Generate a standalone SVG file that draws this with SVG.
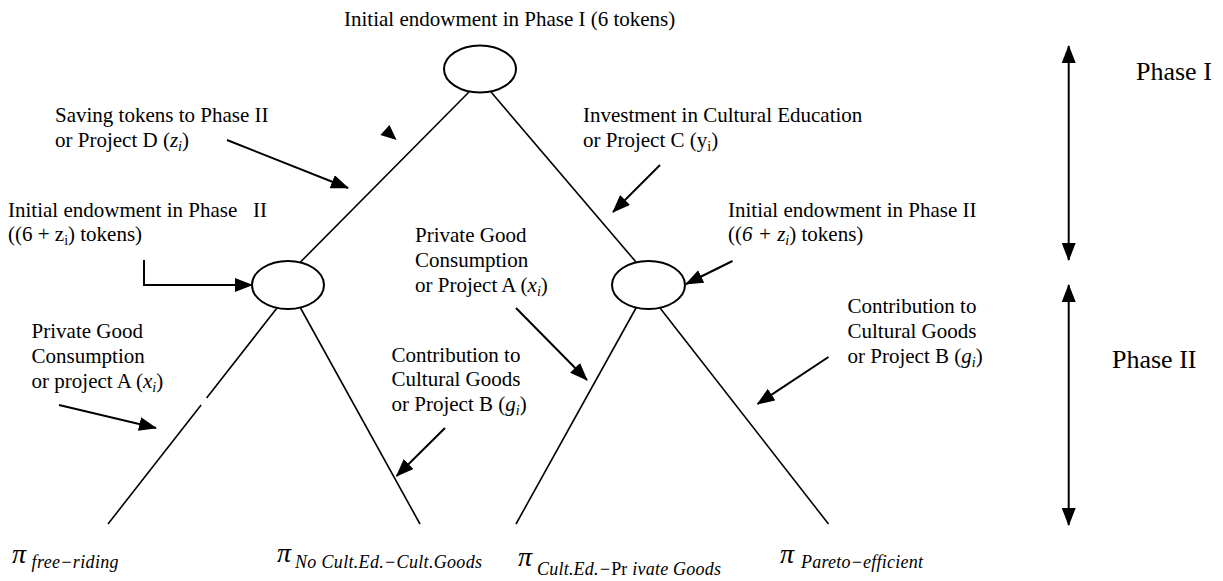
<svg xmlns="http://www.w3.org/2000/svg" width="1223" height="581" viewBox="0 0 1223 581">
  <defs>
    <marker id="head" markerUnits="userSpaceOnUse" viewBox="0 0 18 14" markerWidth="18" markerHeight="14" refX="17" refY="7" orient="auto-start-reverse">
      <path d="M0,0 L18,7 L0,14 z" fill="#000"/>
    </marker>
  </defs>
  <style>
    text { font-family: "Liberation Serif", "Times New Roman", serif; font-size: 21px; fill: #000; }
    .node { fill: #fff; stroke: #000; stroke-width: 2; }
    .branch { stroke: #000; stroke-width: 1.6; fill: none; }
    .arrow { stroke: #000; stroke-width: 2; fill: none; marker-end: url(#head); }
    .both { marker-start: url(#head); }
    .it { font-style: italic; }
    .phase { font-size: 26px; }
    .pi { font-size: 28px; font-style: italic; }
    .sub { font-size: 18px; font-style: italic; }
  </style>

  <rect width="1223" height="581" fill="#fff"/>

  <!-- tree branches and pointer arrows -->
  <g id="connectors">
    <line class="branch" x1="469" y1="92" x2="300.5" y2="262"/>
    <line class="branch" x1="491" y1="92" x2="636" y2="262"/>
    <line class="branch" x1="277" y1="308" x2="206.6" y2="398"/>
    <line class="branch" x1="201.1" y1="405" x2="108" y2="524"/>
    <line class="branch" x1="300.5" y1="308" x2="420" y2="524"/>
    <line class="branch" x1="636" y1="308" x2="516" y2="524"/>
    <line class="branch" x1="660" y1="308" x2="828.5" y2="524"/>

    <polygon points="389.5,125 380.4,135 396.6,140" fill="#000"/>

    <line class="arrow" x1="227" y1="140" x2="348" y2="188"/>
    <path class="arrow" d="M144,260 V285 H252"/>
    <line class="arrow" x1="59" y1="405" x2="156" y2="428"/>
    <line class="arrow" x1="445" y1="428" x2="396.6" y2="476"/>
    <line class="arrow" x1="660" y1="165" x2="613" y2="212"/>
    <line class="arrow" x1="732.5" y1="261" x2="686" y2="284"/>
    <line class="arrow" x1="516" y1="308" x2="587" y2="380"/>
    <line class="arrow" x1="828.5" y1="357" x2="757.5" y2="404"/>

    <line class="arrow both" x1="1068.7" y1="46" x2="1068.7" y2="260"/>
    <line class="arrow both" x1="1068.7" y1="285" x2="1068.7" y2="525"/>
  </g>

  <!-- decision nodes -->
  <g id="node-phase1">
    <ellipse class="node" cx="480" cy="69" rx="36" ry="23.5"/>
  </g>
  <g id="node-phase2-left">
    <ellipse class="node" cx="288" cy="285" rx="36" ry="24"/>
  </g>
  <g id="node-phase2-right">
    <ellipse class="node" cx="648.5" cy="285" rx="36.5" ry="24"/>
  </g>

  <!-- labels -->
  <g id="labels">
    <text x="344" y="26">Initial endowment in Phase I (6 tokens)</text>

    <text x="55" y="122">Saving tokens to Phase II</text>
    <text x="55" y="147">or Project D (<tspan class="it">z</tspan><tspan class="it" font-size="14" dy="4">i</tspan><tspan dy="-4">)</tspan></text>

    <text x="8" y="217" style="white-space:pre">Initial endowment in Phase   II</text>
    <text x="8" y="241">((6 + z<tspan font-size="14" dy="4">i</tspan><tspan dy="-4">) tokens)</tspan></text>

    <text x="583" y="122">Investment in Cultural Education</text>
    <text x="583" y="147">or Project C (y<tspan font-size="14" dy="4">i</tspan><tspan dy="-4">)</tspan></text>

    <text x="728" y="217">Initial endowment in Phase II</text>
    <text x="728" y="241">((<tspan class="it">6 + z</tspan><tspan class="it" font-size="14" dy="4">i</tspan><tspan dy="-4">) tokens)</tspan></text>

    <text x="415" y="242">Private Good</text>
    <text x="415" y="267">Consumption</text>
    <text x="415" y="292">or Project A (<tspan class="it">x</tspan><tspan class="it" font-size="14" dy="4">i</tspan><tspan dy="-4">)</tspan></text>

    <text x="31.6" y="338">Private Good</text>
    <text x="31.6" y="363">Consumption</text>
    <text x="31.6" y="388">or project A (<tspan class="it">x</tspan><tspan class="it" font-size="14" dy="4">i</tspan><tspan dy="-4">)</tspan></text>

    <text x="391.5" y="362">Contribution to</text>
    <text x="391.5" y="386">Cultural Goods</text>
    <text x="391.5" y="411">or Project B (<tspan class="it">g</tspan><tspan class="it" font-size="14" dy="4">i</tspan><tspan dy="-4">)</tspan></text>

    <text x="847.5" y="313">Contribution to</text>
    <text x="847.5" y="338">Cultural Goods</text>
    <text x="847.5" y="363">or Project B (<tspan class="it">g</tspan><tspan class="it" font-size="14" dy="4">i</tspan><tspan dy="-4">)</tspan></text>

    <text class="phase" x="1136" y="80">Phase I</text>
    <text class="phase" x="1112" y="368">Phase II</text>

    <!-- payoffs at the leaves -->
    <text class="pi" x="12" y="563">π</text>
    <text class="sub" x="31.6" y="568" textLength="87" lengthAdjust="spacing">free−riding</text>

    <text class="pi" x="277" y="562">π</text>
    <text class="sub" x="295" y="568" textLength="187" lengthAdjust="spacing">No Cult.Ed.−Cult.Goods</text>

    <text class="pi" x="518" y="566">π</text>
    <text class="sub" x="537" y="575" textLength="184" lengthAdjust="spacing">Cult.Ed.−<tspan font-style="normal">Pr</tspan> ivate Goods</text>

    <text class="pi" x="780" y="563">π</text>
    <text class="sub" x="801" y="568" textLength="122" lengthAdjust="spacing">Pareto−efficient</text>
  </g>
</svg>
